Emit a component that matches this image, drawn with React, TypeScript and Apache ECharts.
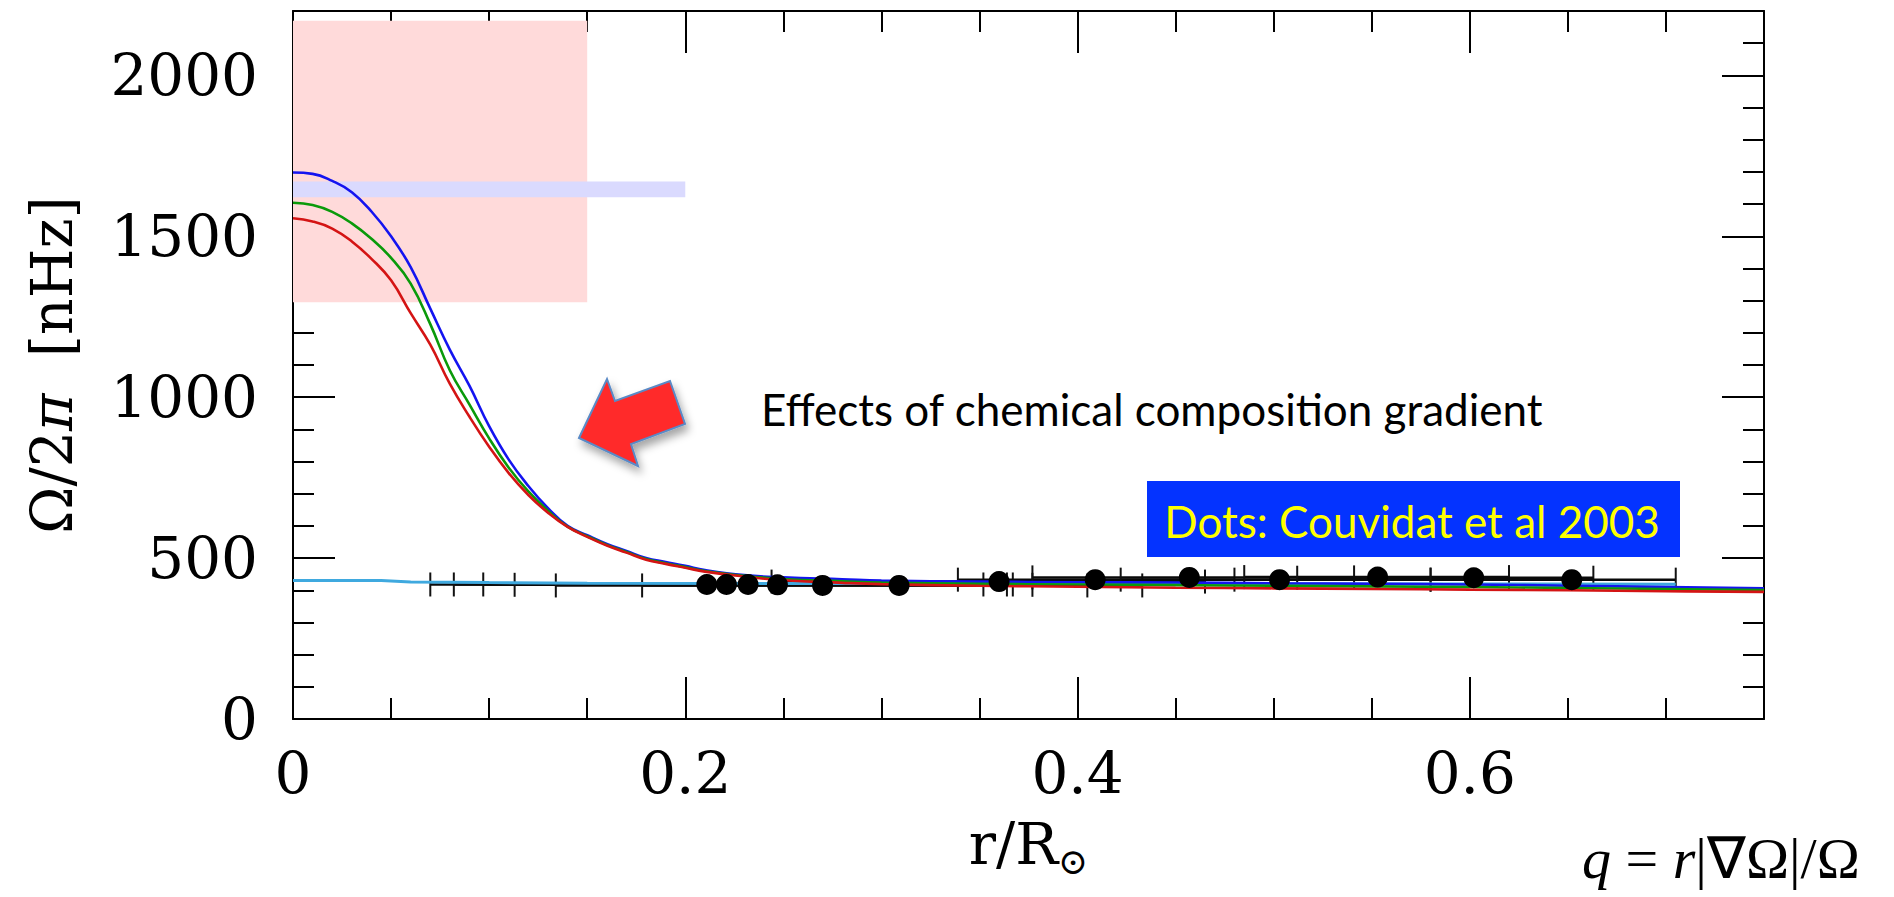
import React, { useEffect, useRef } from 'react';
import * as echarts from 'echarts';

// radius r/R_sun sampled for the three model curves
const rGrid = [0, 0.01, 0.02, 0.03, 0.04, 0.05, 0.06, 0.07, 0.08, 0.09, 0.1, 0.11, 0.12, 0.13, 0.14, 0.15, 0.16, 0.17, 0.18, 0.19, 0.2, 0.21, 0.23, 0.25, 0.28, 0.3, 0.35, 0.4, 0.45, 0.5, 0.55, 0.6, 0.65, 0.7, 0.75];
const blueModel = [1698, 1694, 1672, 1637, 1577, 1500, 1404, 1275, 1147, 1035, 910, 806, 724, 655, 600, 571, 544, 522, 500, 488, 476, 463, 447, 440, 434, 430, 427, 425, 424, 422, 420, 418, 414, 410, 406];
const greenModel = [1604, 1597, 1576, 1540, 1492, 1433, 1353, 1227, 1083, 977, 872, 781, 707, 647, 598, 568, 541, 519, 497, 484, 472, 460, 445, 435, 428, 424, 420, 418, 416, 414, 412, 410, 407, 404, 401];
const redModel = [1556, 1546, 1524, 1484, 1430, 1363, 1261, 1163, 1041, 939, 846, 764, 696, 641, 597, 566, 539, 517, 495, 482, 470, 458, 443, 431, 423, 419, 414, 411, 408, 406, 404, 402, 400, 397, 395];

// light-blue reference profile
const cyanR = [0, 0.045, 0.06, 0.1, 0.15, 0.3, 0.5, 0.705];
const cyanOmega = [430, 430, 426, 424, 422, 421, 420, 419];

// Couvidat et al 2003 inversion points with horizontal resolution bars
const dotR = [0.211, 0.221, 0.232, 0.247, 0.27, 0.309, 0.36, 0.409, 0.457, 0.503, 0.553, 0.602, 0.652];
const dotOmega = [418, 418, 418, 417, 415, 415, 427, 433, 440, 433, 441, 439, 433];
const errLo = [0.07, 0.082, 0.097, 0.113, 0.134, 0.178, 0.244, 0.339, 0.377, 0.422, 0.485, 0.512, 0.58];
const errHi = [0.352, 0.364, 0.367, 0.377, 0.405, 0.433, 0.465, 0.48, 0.541, 0.58, 0.62, 0.663, 0.705];

// shaded regions
const pinkR = [0, 0.15];
const pinkOmega = [1295, 2170];
const bandR = [0, 0.2];
const bandOmega = [1621, 1670];

// axes
const xMin = 0, xMax = 0.75, yMin = 0, yMax = 2200;
const xTickLabels = ['0', '0.2', '0.4', '0.6'];
const yTickLabels = ['0', '500', '1000', '1500', '2000'];

const SERIF = 'DejaVu Serif';
const LABEL_SIZE = 58;

export default function App() {
  const ref = useRef<HTMLDivElement>(null);

  useEffect(() => {
    if (!ref.current) return;
    const chart = echarts.init(ref.current, null, { renderer: 'svg' });

    const axisLine = { show: true, onZero: false, lineStyle: { color: '#000', width: 2 } };
    const noLine = { show: false, onZero: false };
    const tickStyle = { color: '#000', width: 2 };

    const xLabelFmt = (v: number) => {
      const k = Math.round(v * 5);
      if (Math.abs(v * 5 - k) > 1e-6) return '';
      return xTickLabels[k] ?? '';
    };
    const yLabelFmt = (v: number) => {
      const k = Math.round(v / 500);
      if (Math.abs(v / 500 - k) > 1e-6) return '';
      return yTickLabels[k] ?? '';
    };

    const baseX = { type: 'value', min: xMin, max: xMax, splitLine: { show: false } };
    const baseY = { type: 'value', min: yMin, max: yMax, splitLine: { show: false } };

    const option: any = {
      animation: false,
      backgroundColor: '#fff',
      grid: { left: 293, right: 130, top: 11, bottom: 178, containLabel: false, outerBoundsMode: 'none' },
      xAxis: [
        {
          ...baseX, position: 'bottom', interval: 0.05,
          axisLine, axisTick: { show: true, inside: true, length: 21, lineStyle: tickStyle },
          axisLabel: { show: true, margin: 25, formatter: xLabelFmt, color: '#000', fontFamily: SERIF, fontSize: LABEL_SIZE, showMaxLabel: false },
          name: 'r/R{s|⊙}', nameLocation: 'middle', nameGap: 90,
          nameTextStyle: {
            color: '#000', fontFamily: SERIF, fontSize: 57,
            rich: { s: { fontFamily: SERIF, fontSize: 36, color: '#000', padding: [34, 0, 0, 0], verticalAlign: 'middle' } },
          },
        },
        { ...baseX, position: 'bottom', interval: 0.2, axisLine: noLine, axisTick: { show: true, inside: true, length: 42, lineStyle: tickStyle }, axisLabel: { show: false } },
        { ...baseX, position: 'top', interval: 0.05, axisLine, axisTick: { show: true, inside: true, length: 21, lineStyle: tickStyle }, axisLabel: { show: false } },
        { ...baseX, position: 'top', interval: 0.2, axisLine: noLine, axisTick: { show: true, inside: true, length: 42, lineStyle: tickStyle }, axisLabel: { show: false } },
      ],
      yAxis: [
        {
          ...baseY, position: 'left', interval: 100,
          axisLine, axisTick: { show: true, inside: true, length: 21, lineStyle: tickStyle },
          axisLabel: { show: true, margin: 35, formatter: yLabelFmt, color: '#000', fontFamily: SERIF, fontSize: LABEL_SIZE },
          name: 'Ω/2{i|π}  [nHz]', nameLocation: 'middle', nameRotate: 90, nameGap: 213,
          nameTextStyle: {
            color: '#000', fontFamily: SERIF, fontSize: 57,
            rich: { i: { fontFamily: SERIF, fontStyle: 'italic', fontSize: 57, color: '#000' } },
          },
        },
        { ...baseY, position: 'left', interval: 500, axisLine: noLine, axisTick: { show: true, inside: true, length: 42, lineStyle: tickStyle }, axisLabel: { show: false } },
        { ...baseY, position: 'right', interval: 100, axisLine, axisTick: { show: true, inside: true, length: 21, lineStyle: tickStyle }, axisLabel: { show: false } },
        { ...baseY, position: 'right', interval: 500, axisLine: noLine, axisTick: { show: true, inside: true, length: 42, lineStyle: tickStyle }, axisLabel: { show: false } },
      ],
      series: [
        {
          type: 'custom', name: 'resolution', xAxisIndex: 0, yAxisIndex: 0, z: 3,
          data: dotR.map((_, i) => [errLo[i], errHi[i], dotOmega[i]]),
          encode: { x: [0, 1], y: 2 },
          renderItem: (params: any, api: any) => {
            const p1 = api.coord([api.value(0), api.value(2)]);
            const p2 = api.coord([api.value(1), api.value(2)]);
            const h = 12;
            return {
              type: 'group',
              children: [
                { type: 'line', shape: { x1: p1[0], y1: p1[1], x2: p2[0], y2: p2[1] }, style: { stroke: '#0a0a0a', lineWidth: 2.5 } },
                { type: 'line', shape: { x1: p1[0], y1: p1[1] - h, x2: p1[0], y2: p1[1] + h }, style: { stroke: '#111', lineWidth: 2 } },
                { type: 'line', shape: { x1: p2[0], y1: p2[1] - h, x2: p2[0], y2: p2[1] + h }, style: { stroke: '#111', lineWidth: 2 } },
              ],
            };
          },
        },
        {
          type: 'line', name: 'reference', xAxisIndex: 0, yAxisIndex: 0,
          data: cyanR.map((r, i) => [r, cyanOmega[i]]),
          showSymbol: false, lineStyle: { color: '#3FA9DF', width: 3 }, z: 4,
          markArea: {
            silent: true, label: { show: false },
            data: [
              [{ xAxis: pinkR[0], yAxis: pinkOmega[0], itemStyle: { color: '#FFDADA' } }, { xAxis: pinkR[1], yAxis: pinkOmega[1] }],
              [{ xAxis: bandR[0], yAxis: bandOmega[0], itemStyle: { color: '#DADAFE' } }, { xAxis: bandR[1], yAxis: bandOmega[1] }],
            ],
          },
        },
        {
          type: 'line', name: 'model blue', xAxisIndex: 0, yAxisIndex: 0, z: 5,
          data: rGrid.map((r, i) => [r, blueModel[i]]),
          showSymbol: false, smooth: 0.45, lineStyle: { color: '#1414F0', width: 2.6 },
        },
        {
          type: 'line', name: 'model green', xAxisIndex: 0, yAxisIndex: 0, z: 5,
          data: rGrid.map((r, i) => [r, greenModel[i]]),
          showSymbol: false, smooth: 0.45, lineStyle: { color: '#0A9A0A', width: 2.6 },
        },
        {
          type: 'line', name: 'model red', xAxisIndex: 0, yAxisIndex: 0, z: 5,
          data: rGrid.map((r, i) => [r, redModel[i]]),
          showSymbol: false, smooth: 0.45, lineStyle: { color: '#D41414', width: 2.6 },
        },
        {
          type: 'scatter', name: 'Couvidat et al 2003', xAxisIndex: 0, yAxisIndex: 0, z: 6,
          data: dotR.map((r, i) => [r, dotOmega[i]]),
          symbol: 'circle', symbolSize: 21, itemStyle: { color: '#000', opacity: 1 },
        },
      ],
      graphic: [
        {
          type: 'polygon', z: 100,
          shape: { points: [[579, 438], [607, 379], [615, 401], [670, 381], [685, 424], [631, 444], [638, 466]] },
          style: { fill: '#FF2A2A', stroke: '#5A8AC6', lineWidth: 2, shadowBlur: 8, shadowOffsetX: 3, shadowOffsetY: 6, shadowColor: 'rgba(0,0,0,0.35)' },
        },
        {
          type: 'text', z: 100, x: 761, y: 409,
          style: { text: 'Effects of chemical composition gradient', fill: '#000', fontFamily: 'Lato', fontSize: 44, align: 'left', verticalAlign: 'middle' },
        },
        {
          type: 'rect', z: 100,
          shape: { x: 1147, y: 481, width: 533, height: 76 },
          style: { fill: '#0433FF' },
        },
        {
          type: 'text', z: 101, x: 1412, y: 521,
          style: { text: 'Dots: Couvidat et al 2003', fill: '#FFFF00', fontFamily: 'Lato', fontSize: 44, align: 'center', verticalAlign: 'middle' },
        },
        {
          type: 'text', z: 100, x: 1582, y: 858,
          style: {
            text: '{i|q} = {i|r}|∇Ω|/Ω', fill: '#000', fontFamily: 'Liberation Serif', fontSize: 58, lineHeight: 50, align: 'left', verticalAlign: 'middle',
            rich: { i: { fontFamily: 'Liberation Serif', fontStyle: 'italic', fontSize: 58, lineHeight: 50, fill: '#000' } },
          },
        },
      ],
    };

    chart.setOption(option);
    return () => chart.dispose();
  }, []);

  return <div ref={ref} style={{ position: 'absolute', left: 0, top: 0, width: 1894, height: 897 }} />;
}
